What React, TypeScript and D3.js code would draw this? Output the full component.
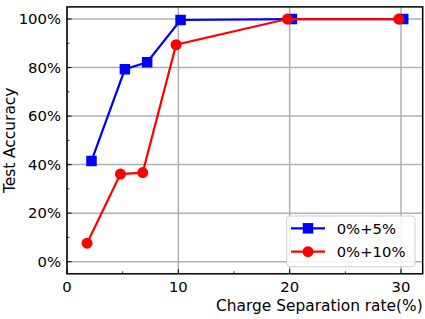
import React from "react";
import * as d3 from "d3";

const seriesNames = ["0%+5%", "0%+10%"];
const blueX = [2.2, 5.2, 7.2, 10.2, 20.2, 30.2];
const blueY = [0.415, 0.793, 0.822, 0.996, 1.0, 1.0];
const redX = [1.8, 4.8, 6.8, 9.8, 19.8, 29.8];
const redY = [0.076, 0.361, 0.367, 0.894, 1.0, 1.0];
const xTicks = [0, 10, 20, 30];
const xMinor = [5, 15, 25];
const yTicks = [0, 0.2, 0.4, 0.6, 0.8, 1.0];
const yMinor = [0.1, 0.3, 0.5, 0.7, 0.9];

export default function App() {
  const W = 425, H = 319;
  const L = 67, R = 422.7, T = 6.9, B = 273.8;
  const x = d3.scaleLinear().domain([0, 31.95]).range([L, R]);
  const y = d3.scaleLinear().domain([-0.05, 1.05]).range([B, T]);
  const line = d3.line<[number, number]>().x(d => x(d[0])).y(d => y(d[1]));
  const blue = blueX.map((v, i) => [v, blueY[i]] as [number, number]);
  const red = redX.map((v, i) => [v, redY[i]] as [number, number]);
  const font = "DejaVu Sans, sans-serif";
  const fs = 14.8;
  const fl = 15.4;
  const grid = "#b0b0b0";
  const sq = 10.5;
  return (
    <svg width={W} height={H} style={{ position: "absolute", left: 0, top: 0 }} fontFamily={font}>
      <rect width={W} height={H} fill="white" />
      {xTicks.map(t => (
        <line key={"gx" + t} x1={x(t)} x2={x(t)} y1={T} y2={B} stroke={grid} strokeWidth={1.5} />
      ))}
      {yTicks.map(t => (
        <line key={"gy" + t} x1={L} x2={R} y1={y(t)} y2={y(t)} stroke={grid} strokeWidth={1.5} />
      ))}
      <g>
        <path d={line(blue) || ""} fill="none" stroke="#0000ff" strokeWidth={2.2} />
        {blue.map((d, i) => (
          <rect key={"b" + i} x={x(d[0]) - sq / 2} y={y(d[1]) - sq / 2} width={sq} height={sq} fill="#0000ff" />
        ))}
        <path d={line(red) || ""} fill="none" stroke="#ff0000" strokeWidth={2.2} />
        {red.map((d, i) => (
          <circle key={"r" + i} cx={x(d[0])} cy={y(d[1])} r={5.5} fill="#ff0000" />
        ))}
      </g>
      {xTicks.map(t => (
        <line key={"tx" + t} x1={x(t)} x2={x(t)} y1={B} y2={B - 4.5} stroke="black" strokeWidth={1} />
      ))}
      {xMinor.map(t => (
        <line key={"mx" + t} x1={x(t)} x2={x(t)} y1={B} y2={B - 2.5} stroke="black" strokeWidth={0.8} />
      ))}
      {yTicks.map(t => (
        <line key={"ty" + t} x1={L} x2={L + 4.5} y1={y(t)} y2={y(t)} stroke="black" strokeWidth={1} />
      ))}
      {yMinor.map(t => (
        <line key={"my" + t} x1={L} x2={L + 2.5} y1={y(t)} y2={y(t)} stroke="black" strokeWidth={0.8} />
      ))}
      <rect x={L} y={T} width={R - L} height={B - T} fill="none" stroke="black" strokeWidth={1.5} />
      {xTicks.map(t => (
        <text key={"lx" + t} x={x(t)} y={291.7} textAnchor="middle" fontSize={fs} fill="black">{t}</text>
      ))}
      {yTicks.map(t => (
        <text key={"ly" + t} x={L - 6} y={y(t)} dy="0.36em" textAnchor="end" fontSize={fs} fill="black">
          {Math.round(t * 100) + "%"}
        </text>
      ))}
      <text x={R} y={311} textAnchor="end" fontSize={fl} fill="black">Charge Separation rate(%)</text>
      <text transform={`translate(15, ${(T + B) / 2}) rotate(-90)`} textAnchor="middle" fontSize={fl} fill="black">
        Test Accuracy
      </text>
      <rect x={286.7} y={216} width={128.3} height={50.7} rx={3} fill="white" fillOpacity={0.85} stroke="#d0d0d0" strokeWidth={1} />
      <line x1={291} x2={325} y1={228.3} y2={228.3} stroke="#0000ff" strokeWidth={2.2} />
      <rect x={308 - sq / 2} y={228.3 - sq / 2} width={sq} height={sq} fill="#0000ff" />
      <text x={336.7} y={228.3} dy="0.36em" fontSize={fs} fill="black">{seriesNames[0]}</text>
      <line x1={291} x2={325} y1={251.7} y2={251.7} stroke="#ff0000" strokeWidth={2.2} />
      <circle cx={308} cy={251.7} r={5.5} fill="#ff0000" />
      <text x={336.7} y={251.7} dy="0.36em" fontSize={fs} fill="black">{seriesNames[1]}</text>
    </svg>
  );
}
